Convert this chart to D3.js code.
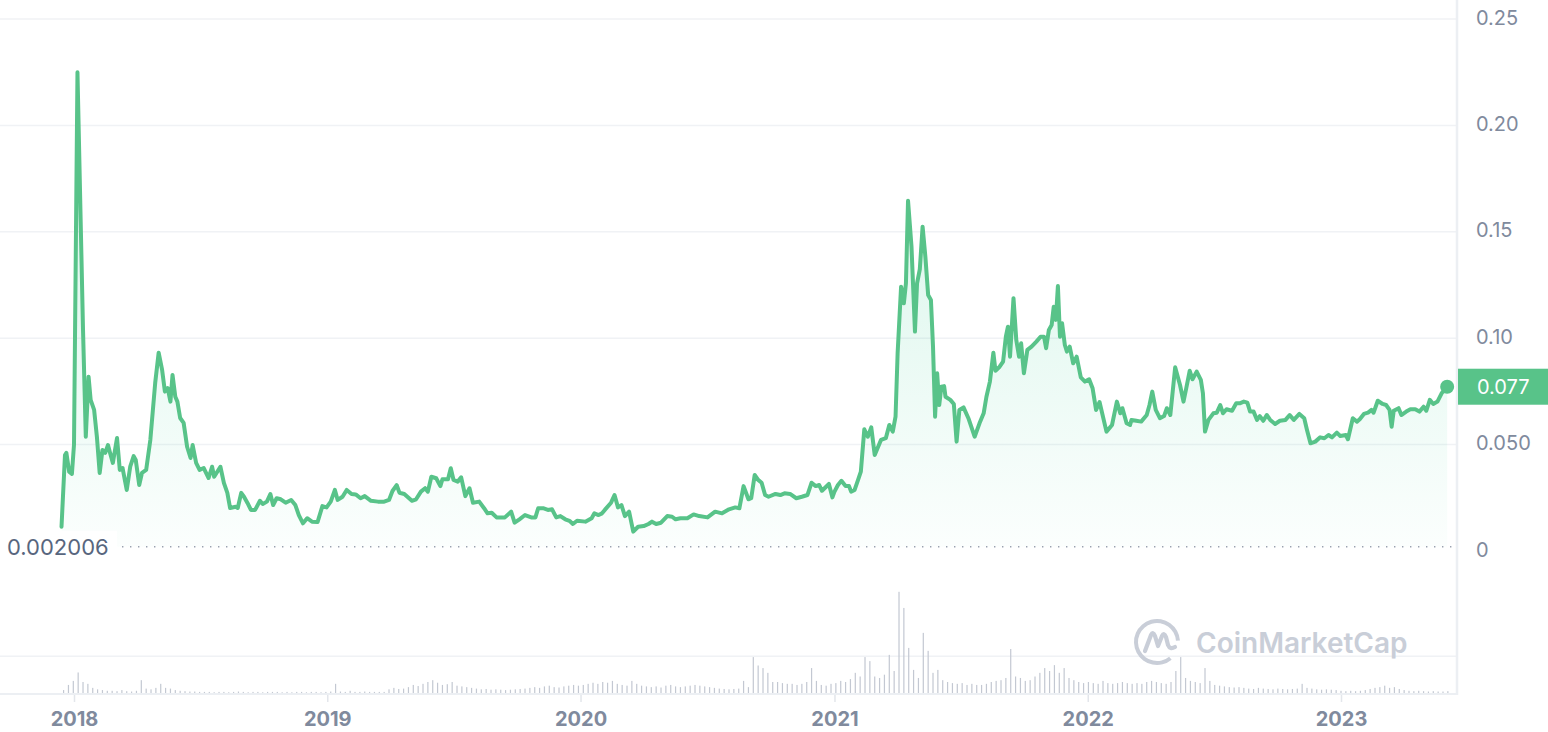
<!DOCTYPE html>
<html>
<head>
<meta charset="utf-8">
<script src="https://cdn.jsdelivr.net/npm/d3@7"></script>
<style>
  html, body { margin: 0; padding: 0; background: #fff; }
  svg { display: block; font-family: Inter, "Noto Sans", sans-serif; }
</style>
</head>
<body>
<svg id="chart" width="1548" height="732"></svg>
<script>
// price, USD (date, close)
const priceSeries = [
  ["2017-12-14",0.0114],["2017-12-19",0.0451],["2017-12-21",0.0461],["2017-12-25",0.0373],["2017-12-29",0.0362],
  ["2018-01-01",0.0500],["2018-01-06",0.2250],["2018-01-14",0.1039],["2018-01-18",0.0537],["2018-01-22",0.0819],
  ["2018-01-25",0.0710],["2018-01-30",0.0663],["2018-02-03",0.0537],["2018-02-07",0.0367],["2018-02-11",0.0475],
  ["2018-02-15",0.0461],["2018-02-19",0.0498],["2018-02-22",0.0461],["2018-02-26",0.0414],["2018-03-04",0.0531],
  ["2018-03-08",0.0381],["2018-03-12",0.0390],["2018-03-18",0.0287],["2018-03-23",0.0396],["2018-03-28",0.0446],
  ["2018-03-31",0.0428],["2018-04-05",0.0310],["2018-04-09",0.0367],["2018-04-15",0.0381],["2018-04-21",0.0522],
  ["2018-04-28",0.0789],["2018-05-03",0.0932],["2018-05-08",0.0851],["2018-05-12",0.0749],["2018-05-16",0.0766],
  ["2018-05-20",0.0702],["2018-05-23",0.0827],["2018-05-27",0.0725],["2018-05-30",0.0702],["2018-06-03",0.0625],
  ["2018-06-08",0.0602],["2018-06-13",0.0490],["2018-06-18",0.0437],["2018-06-21",0.0498],["2018-06-26",0.0414],
  ["2018-07-01",0.0381],["2018-07-07",0.0390],["2018-07-14",0.0343],["2018-07-19",0.0396],["2018-07-22",0.0349],
  ["2018-07-31",0.0396],["2018-08-05",0.0320],["2018-08-10",0.0273],["2018-08-14",0.0202],["2018-08-22",0.0208],
  ["2018-08-25",0.0202],["2018-08-30",0.0273],["2018-09-03",0.0255],["2018-09-08",0.0226],["2018-09-13",0.0193],
  ["2018-09-19",0.0193],["2018-09-26",0.0236],["2018-09-30",0.0221],["2018-10-06",0.0232],["2018-10-11",0.0268],
  ["2018-10-15",0.0216],["2018-10-20",0.0248],["2018-10-26",0.0243],["2018-11-02",0.0227],["2018-11-10",0.0240],
  ["2018-11-16",0.0216],["2018-11-21",0.0169],["2018-11-27",0.0130],["2018-12-03",0.0154],["2018-12-10",0.0138],
  ["2018-12-18",0.0136],["2018-12-25",0.0211],["2018-12-31",0.0205],
  ["2019-01-06",0.0232],["2019-01-12",0.0287],["2019-01-16",0.0240],["2019-01-23",0.0255],["2019-01-29",0.0287],
  ["2019-02-05",0.0268],["2019-02-11",0.0266],["2019-02-18",0.0248],["2019-02-24",0.0258],["2019-03-05",0.0236],
  ["2019-03-15",0.0232],["2019-03-24",0.0232],["2019-03-31",0.0240],["2019-04-05",0.0282],["2019-04-11",0.0310],
  ["2019-04-15",0.0274],["2019-04-22",0.0268],["2019-05-03",0.0236],["2019-05-09",0.0243],["2019-05-16",0.0279],
  ["2019-05-22",0.0295],["2019-05-26",0.0279],["2019-05-31",0.0349],["2019-06-07",0.0342],["2019-06-13",0.0305],
  ["2019-06-16",0.0337],["2019-06-24",0.0337],["2019-06-28",0.0389],["2019-07-02",0.0334],["2019-07-08",0.0326],
  ["2019-07-13",0.0346],["2019-07-19",0.0258],["2019-07-25",0.0295],["2019-07-30",0.0227],["2019-08-08",0.0232],
  ["2019-08-15",0.0201],["2019-08-20",0.0177],["2019-08-26",0.0180],["2019-09-02",0.0158],["2019-09-14",0.0158],
  ["2019-09-23",0.0185],["2019-09-28",0.0133],["2019-10-05",0.0149],["2019-10-13",0.0169],["2019-10-22",0.0158],
  ["2019-10-28",0.0158],["2019-11-01",0.0201],["2019-11-08",0.0201],["2019-11-15",0.0193],["2019-11-21",0.0196],
  ["2019-11-27",0.0158],["2019-12-03",0.0164],["2019-12-10",0.0149],["2019-12-16",0.0142],["2019-12-21",0.0127],
  ["2019-12-27",0.0142],
  ["2020-01-08",0.0138],["2020-01-17",0.0154],["2020-01-21",0.0177],["2020-01-27",0.0169],["2020-02-01",0.0177],
  ["2020-02-05",0.0193],["2020-02-14",0.0227],["2020-02-19",0.0263],["2020-02-24",0.0205],["2020-02-29",0.0216],
  ["2020-03-05",0.0164],["2020-03-11",0.0185],["2020-03-17",0.0091],["2020-03-24",0.0114],["2020-04-01",0.0117],
  ["2020-04-08",0.0127],["2020-04-13",0.0138],["2020-04-19",0.0127],["2020-04-26",0.0133],["2020-05-05",0.0164],
  ["2020-05-12",0.0161],["2020-05-17",0.0149],["2020-05-24",0.0154],["2020-06-03",0.0154],["2020-06-12",0.0172],
  ["2020-06-20",0.0164],["2020-07-02",0.0158],["2020-07-13",0.0185],["2020-07-23",0.0177],["2020-08-02",0.0196],
  ["2020-08-11",0.0205],["2020-08-17",0.0201],["2020-08-23",0.0305],["2020-08-30",0.0243],["2020-09-03",0.0248],
  ["2020-09-08",0.0357],["2020-09-13",0.0334],["2020-09-18",0.0321],["2020-09-23",0.0263],["2020-09-28",0.0255],
  ["2020-10-08",0.0268],["2020-10-15",0.0263],["2020-10-21",0.0271],["2020-10-29",0.0268],["2020-11-07",0.0248],
  ["2020-11-15",0.0255],["2020-11-23",0.0263],["2020-11-29",0.0321],["2020-12-05",0.0305],["2020-12-10",0.0310],
  ["2020-12-14",0.0283],["2020-12-24",0.0315],["2020-12-29",0.0252],
  ["2021-01-01",0.0279],["2021-01-06",0.0310],["2021-01-11",0.0330],["2021-01-17",0.0305],["2021-01-22",0.0305],
  ["2021-01-25",0.0279],["2021-01-30",0.0287],["2021-02-04",0.0334],["2021-02-08",0.0373],["2021-02-13",0.0572],
  ["2021-02-18",0.0537],["2021-02-23",0.0581],["2021-02-28",0.0451],["2021-03-06",0.0498],["2021-03-09",0.0522],
  ["2021-03-16",0.0530],["2021-03-21",0.0592],["2021-03-26",0.0561],["2021-03-30",0.0631],["2021-04-02",0.0929],
  ["2021-04-07",0.1242],["2021-04-11",0.1164],["2021-04-14",0.1258],["2021-04-17",0.1646],["2021-04-22",0.1430],
  ["2021-04-27",0.1031],["2021-04-30",0.1258],["2021-05-04",0.1324],["2021-05-08",0.1524],["2021-05-12",0.1383],
  ["2021-05-16",0.1203],["2021-05-20",0.1180],["2021-05-23",0.0960],["2021-05-26",0.0631],["2021-05-29",0.0835],
  ["2021-06-01",0.0686],["2021-06-04",0.0772],["2021-06-08",0.0775],["2021-06-10",0.0725],["2021-06-17",0.0710],
  ["2021-06-22",0.0691],["2021-06-26",0.0514],["2021-06-30",0.0663],["2021-07-06",0.0675],["2021-07-13",0.0624],
  ["2021-07-22",0.0537],["2021-07-29",0.0600],["2021-08-04",0.0647],["2021-08-08",0.0725],["2021-08-13",0.0796],
  ["2021-08-18",0.0932],["2021-08-21",0.0847],["2021-08-27",0.0866],["2021-09-01",0.0890],["2021-09-05",0.1007],
  ["2021-09-08",0.1054],["2021-09-11",0.0913],["2021-09-16",0.1188],["2021-09-20",0.0992],["2021-09-24",0.0913],
  ["2021-09-27",0.0976],["2021-10-01",0.0835],["2021-10-06",0.0945],["2021-10-12",0.0960],["2021-10-19",0.0984],
  ["2021-10-25",0.1007],["2021-10-30",0.1007],["2021-11-02",0.0953],["2021-11-06",0.1039],["2021-11-10",0.1062],
  ["2021-11-13",0.1148],["2021-11-16",0.1086],["2021-11-19",0.1245],["2021-11-22",0.1007],["2021-11-25",0.1070],
  ["2021-11-29",0.0968],["2021-12-02",0.0937],["2021-12-06",0.0960],["2021-12-11",0.0882],["2021-12-16",0.0913],
  ["2021-12-22",0.0816],["2021-12-28",0.0796],
  ["2022-01-03",0.0807],["2022-01-08",0.0765],["2022-01-13",0.0663],["2022-01-18",0.0700],["2022-01-28",0.0561],
  ["2022-02-05",0.0592],["2022-02-12",0.0702],["2022-02-17",0.0647],["2022-02-20",0.0671],["2022-02-26",0.0600],
  ["2022-03-03",0.0592],["2022-03-05",0.0616],["2022-03-12",0.0612],["2022-03-19",0.0608],["2022-03-27",0.0639],
  ["2022-03-31",0.0686],["2022-04-04",0.0749],["2022-04-09",0.0663],["2022-04-15",0.0624],["2022-04-21",0.0634],
  ["2022-04-25",0.0671],["2022-04-30",0.0639],["2022-05-07",0.0863],["2022-05-14",0.0780],["2022-05-19",0.0702],
  ["2022-05-23",0.0765],["2022-05-28",0.0847],["2022-06-01",0.0807],["2022-06-07",0.0843],["2022-06-13",0.0804],
  ["2022-06-16",0.0741],["2022-06-19",0.0561],["2022-06-24",0.0616],["2022-07-01",0.0647],["2022-07-06",0.0650],
  ["2022-07-11",0.0686],["2022-07-15",0.0647],["2022-07-20",0.0666],["2022-07-28",0.0659],["2022-08-03",0.0694],
  ["2022-08-08",0.0694],["2022-08-14",0.0702],["2022-08-19",0.0697],["2022-08-23",0.0655],["2022-08-28",0.0655],
  ["2022-09-02",0.0616],["2022-09-06",0.0634],["2022-09-11",0.0612],["2022-09-16",0.0639],["2022-09-21",0.0616],
  ["2022-09-28",0.0597],["2022-10-05",0.0612],["2022-10-13",0.0616],["2022-10-19",0.0639],["2022-10-25",0.0616],
  ["2022-11-02",0.0644],["2022-11-09",0.0624],["2022-11-13",0.0569],["2022-11-18",0.0506],["2022-11-25",0.0514],
  ["2022-12-02",0.0534],["2022-12-08",0.0530],["2022-12-14",0.0545],["2022-12-19",0.0534],["2022-12-26",0.0556],
  ["2022-12-31",0.0540],
  ["2023-01-08",0.0545],["2023-01-11",0.0525],["2023-01-18",0.0624],["2023-01-24",0.0608],["2023-01-28",0.0619],
  ["2023-02-03",0.0644],["2023-02-09",0.0650],["2023-02-14",0.0663],["2023-02-17",0.0650],["2023-02-23",0.0706],
  ["2023-03-02",0.0691],["2023-03-07",0.0686],["2023-03-12",0.0663],["2023-03-15",0.0584],["2023-03-18",0.0659],
  ["2023-03-25",0.0671],["2023-03-29",0.0639],["2023-04-05",0.0655],["2023-04-11",0.0666],["2023-04-18",0.0666],
  ["2023-04-24",0.0655],["2023-04-30",0.0678],["2023-05-04",0.0659],["2023-05-09",0.0710],["2023-05-14",0.0691],
  ["2023-05-20",0.0702],["2023-05-26",0.0741],["2023-06-03",0.0772]
];

// weekly volume (relative units), first week starting volumeStart
const volumeStart = "2017-12-14";
const volumeWeekly = [
  8, 22, 33, 56, 30, 25, 14, 10, 8, 6,
  6, 5, 8, 5, 4, 6, 35, 12, 10, 14,
  25, 14, 12, 8, 6, 5, 4, 4, 3, 3,
  3, 2, 3, 3, 2, 3, 4, 3, 2, 3, 3, 2, 3, 3, 3, 2, 3, 2, 3, 3, 2, 3, 3, 2, 3,
  4, 25, 4, 3, 6, 3, 3, 4, 3, 3,
  3, 3, 10, 14, 11, 12, 16, 22, 19, 25,
  30, 35, 28, 22, 24, 30, 20, 18, 16, 14,
  12, 10, 11, 9, 10, 9, 8, 9, 10, 11, 12, 14, 16, 14, 18, 20, 16, 15, 18, 20, 22, 20,
  22, 25, 28, 25, 30, 28, 33, 25, 22, 20,
  33, 25, 20, 18, 16, 18, 15, 20, 22, 18,
  16, 18, 20, 22, 20, 18, 16, 14, 12, 11,
  10, 11, 12, 33, 16, 98, 75, 68, 55, 30,
  30, 27, 25, 25, 22, 25, 30, 68, 33, 22, 20, 25,
  27, 33, 30, 38, 55, 45, 98, 87, 45, 41,
  50, 104, 60, 276, 232, 123, 63, 41, 164, 115,
  55, 63, 35, 30, 27, 25, 27, 22, 25, 22,
  22, 25, 30, 33, 35, 41, 120, 45, 41, 33,
  35, 45, 55, 68, 60, 76, 55, 68, 41, 35, 30, 27,
  30, 27, 25, 33, 27, 25, 27, 30, 27, 25,
  27, 25, 30, 33, 30, 27, 25, 30, 60, 98,
  41, 33, 30, 27, 68, 33, 22, 20, 18, 16,
  15, 16, 14, 12, 11, 14, 12, 11, 10, 12, 11, 10, 11, 12, 25, 14, 12, 10, 9, 10, 9, 8,
  6, 5, 6, 5, 6, 8, 11, 14, 16, 20, 14, 16, 11, 8, 6, 5, 6, 5, 4, 5, 4, 4, 5
];

const priceTicks = [0, 0.05, 0.10, 0.15, 0.20, 0.25];
const priceTickLabels = ["0", "0.050", "0.10", "0.15", "0.20", "0.25"];
const minPrice = 0.002006;
const watermark = "CoinMarketCap";

const green = "#58c389";
const grey = "#808a9d";
const gridColor = "#f0f2f5";

let svg = d3.select("#chart"),
    width = +svg.attr("width"),
    height = +svg.attr("height");

const plotRight = 1457;
const parse = d3.timeParse("%Y-%m-%d");

let prices = priceSeries.map(([d, v]) => ({date: parse(d), value: v}));
let v0 = parse(volumeStart);
let volumes = volumeWeekly.map((v, i) => ({date: d3.timeDay.offset(v0, i * 7), value: v}));

let x = d3.scaleTime()
    .domain([new Date(2018, 0, 1), new Date(2023, 0, 1)])
    .range([74, 1341]);

let y = d3.scaleLinear().domain([0, 0.25]).range([551, 19]);
let yVol = d3.scaleLinear().domain([0, 300]).range([693, 583]);

// gradient under the line
let defs = svg.append("defs");
let grad = defs.append("linearGradient")
    .attr("id", "areaFill")
    .attr("gradientUnits", "userSpaceOnUse")
    .attr("x1", 0).attr("x2", 0)
    .attr("y1", y(d3.max(prices, d => d.value)))
    .attr("y2", y(minPrice));
grad.append("stop").attr("offset", 0).attr("stop-color", "#16c784").attr("stop-opacity", 0.2);
grad.append("stop").attr("offset", 1).attr("stop-color", "#16c784").attr("stop-opacity", 0.015);

// horizontal price gridlines
svg.append("g")
    .selectAll("line")
    .data(priceTicks.filter(d => d > 0))
    .join("line")
    .attr("x1", 0).attr("x2", plotRight)
    .attr("y1", d => y(d)).attr("y2", d => y(d))
    .attr("stroke", gridColor)
    .attr("stroke-width", 1.5);

// volume panel grid
svg.append("line")
    .attr("x1", 0).attr("x2", plotRight)
    .attr("y1", yVol(100)).attr("y2", yVol(100))
    .attr("stroke", gridColor).attr("stroke-width", 1.5);

// watermark
let wm = svg.append("g").attr("fill", "none").attr("stroke", "#c9ced8");
wm.append("path")
    .attr("transform", "translate(1157,642)")
    .attr("d", d3.arc().innerRadius(19).outerRadius(23).startAngle(Math.PI * 0.78).endAngle(Math.PI * 2.48)())
    .attr("fill", "#c9ced8").attr("stroke", "none");
wm.append("path")
    .attr("transform", "translate(1157,642)")
    .attr("d", "M-12,9 L-6,-7 Q-4,-11 -2,-6 L1,4 L5,-6 Q7,-10 9,-5 L11,3 Q13,8 18,5")
    .attr("stroke-width", 4.2)
    .attr("stroke-linecap", "round")
    .attr("stroke-linejoin", "round");
svg.append("text")
    .attr("x", 1196).attr("y", 653)
    .attr("font-size", 28)
    .attr("font-weight", 600)
    .attr("fill", "#c9ced8")
    .text(watermark);

// volume bars
svg.append("g")
    .selectAll("rect")
    .data(volumes)
    .join("rect")
    .attr("x", d => x(d3.timeDay.offset(d.date, 3)) - 0.6)
    .attr("width", 1.2)
    .attr("y", d => yVol(d.value))
    .attr("height", d => yVol(0) - yVol(d.value))
    .attr("fill", "#c3c8d2");

svg.append("line")
    .attr("x1", 0).attr("x2", plotRight)
    .attr("y1", 694).attr("y2", 694)
    .attr("stroke", "#eceff3").attr("stroke-width", 2);

// area + line
let area = d3.area()
    .x(d => x(d.date))
    .y0(y(minPrice))
    .y1(d => y(d.value));

let line = d3.line()
    .x(d => x(d.date))
    .y(d => y(d.value));

svg.append("path")
    .datum(prices)
    .attr("d", area)
    .attr("fill", "url(#areaFill)");

svg.append("path")
    .datum(prices)
    .attr("d", line)
    .attr("fill", "none")
    .attr("stroke", green)
    .attr("stroke-width", 4)
    .attr("stroke-linejoin", "round")
    .attr("stroke-linecap", "round");

// all-time low marker
svg.append("line")
    .attr("x1", 122).attr("x2", 1452)
    .attr("y1", y(minPrice)).attr("y2", y(minPrice))
    .attr("stroke", "#9aa1b0")
    .attr("stroke-width", 1.4)
    .attr("stroke-dasharray", "1.4,6.6");

svg.append("rect")
    .attr("x", 0).attr("y", y(minPrice) - 16)
    .attr("width", 117).attr("height", 32)
    .attr("fill", "#fff");

svg.append("text")
    .attr("x", 7).attr("y", y(minPrice))
    .attr("dy", "0.36em")
    .attr("font-size", 22)
    .attr("fill", "#58667e")
    .text(minPrice);

// last point
let last = prices[prices.length - 1];
svg.append("circle")
    .attr("cx", x(last.date)).attr("cy", y(last.value))
    .attr("r", 7)
    .attr("fill", green);

// right axis
svg.append("line")
    .attr("x1", plotRight).attr("x2", plotRight)
    .attr("y1", 0).attr("y2", 695)
    .attr("stroke", "#eceff3").attr("stroke-width", 2.5);

let yAxis = svg.append("g")
    .attr("transform", `translate(${plotRight},0)`)
    .call(d3.axisRight(y)
        .tickValues(priceTicks)
        .tickFormat((d, i) => priceTickLabels[i])
        .tickSize(0)
        .tickPadding(19));
yAxis.select(".domain").remove();
yAxis.selectAll("text")
    .attr("font-size", 20)
    .attr("font-family", "Inter, 'Noto Sans', sans-serif")
    .attr("fill", grey)
    .attr("dy", "0.25em");

// current price tag
svg.append("rect")
    .attr("x", plotRight + 1).attr("y", y(last.value) - 18)
    .attr("width", width - plotRight - 1).attr("height", 36)
    .attr("fill", green);
svg.append("text")
    .attr("x", 1477).attr("y", y(last.value))
    .attr("dy", "0.36em")
    .attr("font-size", 20)
    .attr("fill", "#fff")
    .text(d3.format(".3f")(last.value));

// x axis
let xAxis = svg.append("g")
    .attr("transform", "translate(0,695)")
    .call(d3.axisBottom(x)
        .ticks(d3.timeYear.every(1))
        .tickFormat(d3.timeFormat("%Y"))
        .tickSize(7)
        .tickPadding(10));
xAxis.select(".domain").remove();
xAxis.selectAll("line").attr("stroke", "#e3e6eb").attr("stroke-width", 1.5);
xAxis.selectAll("text")
    .attr("font-size", 20)
    .attr("font-weight", 700)
    .attr("font-family", "Inter, 'Noto Sans', sans-serif")
    .attr("fill", grey);
</script>
</body>
</html>
